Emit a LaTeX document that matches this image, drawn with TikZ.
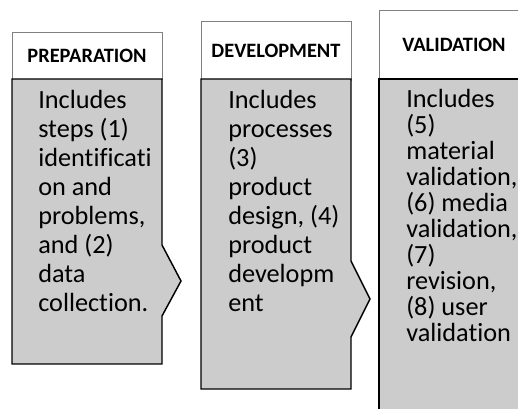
\documentclass[tikz,border=0pt]{standalone}
\usepackage{fontspec}
\setmainfont[Ligatures=NoCommon]{Carlito}
\usetikzlibrary{positioning}

\begin{document}
\begin{tikzpicture}[x=0.75pt,y=-0.75pt,
    stage/.style={draw=black, line width=1.1pt, fill=black!20},
    headbox/.style={draw=black!50, line width=0.6pt, fill=white, minimum width=112.5pt, inner sep=0pt, font=\fontsize{15.3}{18}\selectfont\bfseries},
    bodytext/.style={anchor=north west, inner sep=0pt, align=left, font=\fontsize{19.7}{21.75}\selectfont}]
    \clip (0,0) rectangle (518,409);
    % preparation
    \node[headbox, minimum height=35.25pt] (prephead) at (87,55.5) {PREPARATION};
    \draw[stage] (12,79) -- (162,79) -- (162,245) -- (181,281) -- (162,316) -- (162,364) -- (12,364) -- cycle;
    \node[bodytext] (prepbody) at (38,90) {Includes\\steps (1)\\identificati\\on and\\problems,\\and (2)\\data\\collection.};
    % development
    \node[headbox, minimum height=44.25pt] (devhead) at (276,50.5) {DEVELOPMENT};
    \draw[stage] (201,79) -- (351,79) -- (351,261) -- (370,299) -- (351,337) -- (351,389) -- (201,389) -- cycle;
    \node[bodytext] (devbody) at (228,90) {Includes\\processes\\(3)\\product\\design, (4)\\product\\developm\\ent};
    % validation
    \node[headbox, minimum height=51.75pt] (valhead) at (454,44.5) {VALIDATION};
    \draw[stage] (379,79) -- (530,79) -- (530,420) -- (379,420) -- cycle;
    \node[bodytext, font=\fontsize{19.7}{19.5}\selectfont] (valbody) at (406,89) {Includes\\(5)\\material\\validation,\\(6) media\\validation,\\(7)\\revision,\\(8) user\\validation};
\end{tikzpicture}
\end{document}
